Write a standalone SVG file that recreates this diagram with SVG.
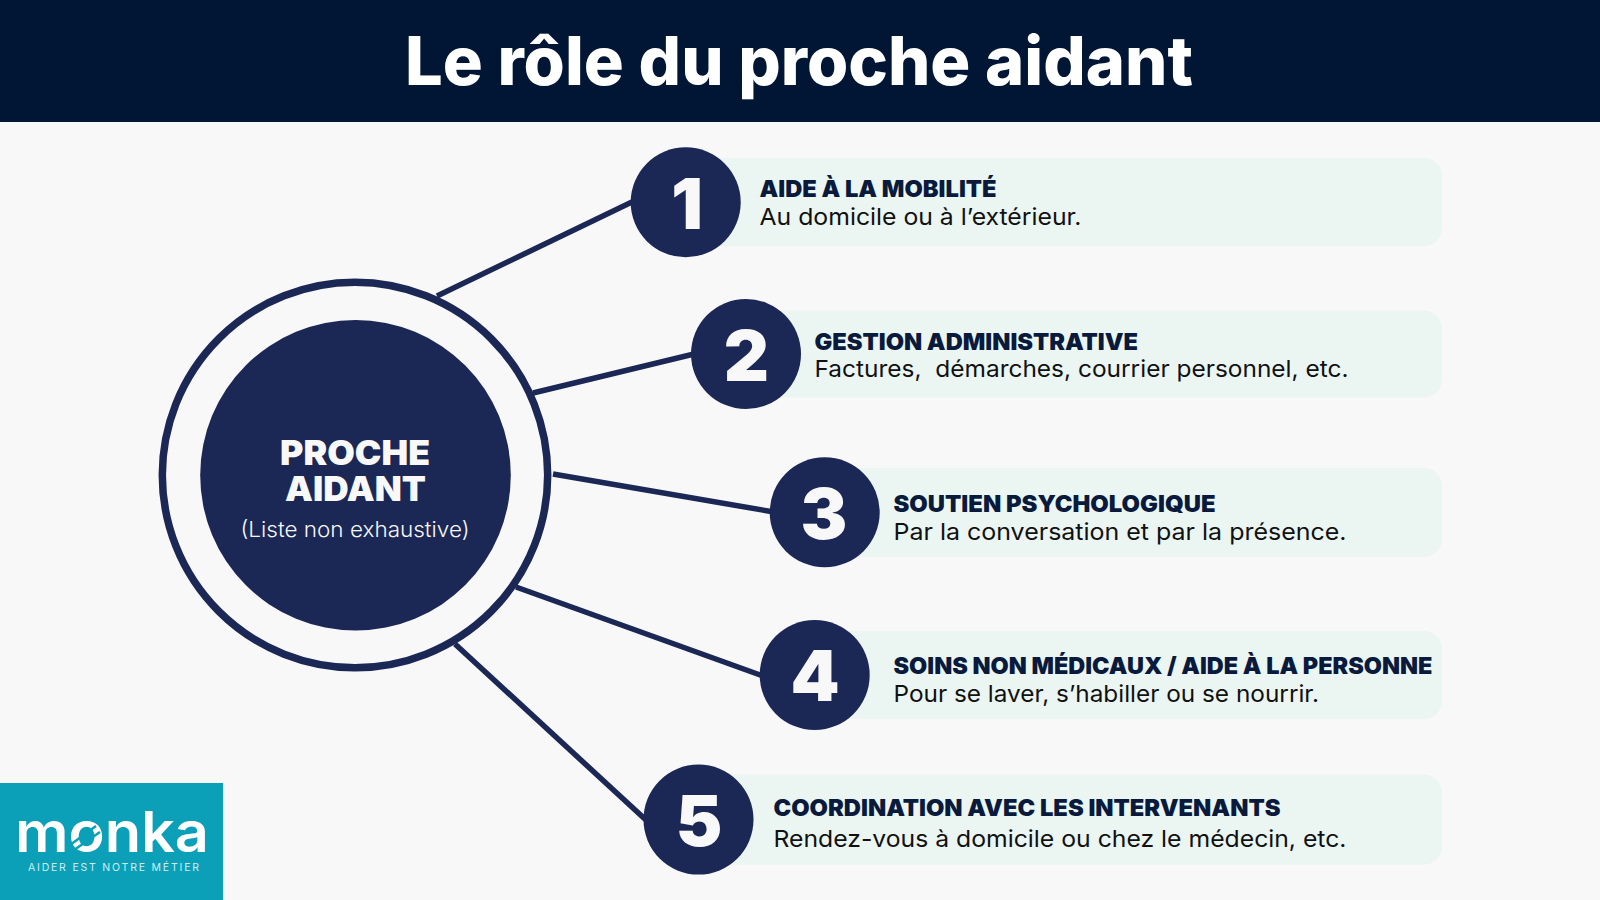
<svg xmlns="http://www.w3.org/2000/svg" width="1600" height="900" viewBox="0 0 1600 900">
<style>
text{font-family:"Inter","Liberation Sans",sans-serif}
.bar{fill:#ebf6f3}
.num{fill:#1b2754}
.dig{fill:#f8f8f8;font-size:70px;font-weight:900;text-anchor:middle}
.h{fill:#0a1a3c;font-size:23px;font-weight:900}
.b{fill:#111;font-size:23.5px;font-weight:400}
#connectors line{stroke:#1b2754;stroke-width:5.5;stroke-linecap:butt}
</style>
<rect width="1600" height="900" fill="#f8f8f8"/>
<g id="header">
<rect width="1600" height="122" fill="#011635"/>
<text x="405" y="85" font-size="67" font-weight="800" fill="#fff" textLength="788" lengthAdjust="spacingAndGlyphs">Le rôle du proche aidant</text>
</g>
<g id="connectors">
<line x1="437" y1="296" x2="634" y2="201"/>
<line x1="533" y1="393" x2="694" y2="354"/>
<line x1="553" y1="474" x2="774" y2="512"/>
<line x1="516" y1="587" x2="763" y2="676"/>
<line x1="455" y1="644" x2="646" y2="820"/>
</g>
<g id="center">
<circle cx="355" cy="475" r="192.7" fill="none" stroke="#1b2754" stroke-width="7.5"/>
<circle cx="355.5" cy="475.3" r="155.3" fill="#1b2754"/>
<text x="280" y="465" font-size="34" font-weight="900" fill="#f8f8f8" textLength="150" lengthAdjust="spacingAndGlyphs">PROCHE</text>
<text x="285" y="501" font-size="34" font-weight="900" fill="#f8f8f8" textLength="141" lengthAdjust="spacingAndGlyphs">AIDANT</text>
<text x="240.5" y="537" font-size="22" font-weight="300" fill="#f8f8f8" textLength="229" lengthAdjust="spacingAndGlyphs">(Liste non exhaustive)</text>
</g>
<g id="node1">
<rect class="bar" x="690" y="158" width="752" height="88" rx="18"/>
<circle class="num" cx="685.7" cy="202.3" r="55"/>
<text class="dig" x="687" y="229">1</text>
<text class="h" x="759.5" y="197" textLength="237" lengthAdjust="spacingAndGlyphs">AIDE À LA MOBILITÉ</text>
<text class="b" x="759.5" y="225" textLength="322" lengthAdjust="spacingAndGlyphs">Au domicile ou à l’extérieur.</text>
</g>
<g id="node2">
<rect class="bar" x="750" y="310.5" width="692" height="87" rx="18"/>
<circle class="num" cx="746" cy="354" r="55"/>
<text class="dig" x="746.5" y="381">2</text>
<text class="h" x="814.5" y="350" textLength="323.5" lengthAdjust="spacingAndGlyphs">GESTION ADMINISTRATIVE</text>
<text class="b" x="814.5" y="377" textLength="534" lengthAdjust="spacingAndGlyphs" xml:space="preserve">Factures,  démarches, courrier personnel, etc.</text>
</g>
<g id="node3">
<rect class="bar" x="830" y="468" width="612" height="89" rx="18"/>
<circle class="num" cx="824.7" cy="512.3" r="55"/>
<text class="dig" x="824" y="539">3</text>
<text class="h" x="893.5" y="511.7" textLength="322" lengthAdjust="spacingAndGlyphs">SOUTIEN PSYCHOLOGIQUE</text>
<text class="b" x="893.5" y="540" textLength="453" lengthAdjust="spacingAndGlyphs">Par la conversation et par la présence.</text>
</g>
<g id="node4">
<rect class="bar" x="820" y="631" width="622" height="88" rx="18"/>
<circle class="num" cx="814.7" cy="675" r="55"/>
<text class="dig" x="815" y="701">4</text>
<text class="h" x="893.5" y="674" textLength="539" lengthAdjust="spacingAndGlyphs">SOINS NON MÉDICAUX / AIDE À LA PERSONNE</text>
<text class="b" x="893.5" y="701.7" textLength="425.5" lengthAdjust="spacingAndGlyphs">Pour se laver, s’habiller ou se nourrir.</text>
</g>
<g id="node5">
<rect class="bar" x="705" y="774.5" width="737" height="90" rx="18"/>
<circle class="num" cx="698.5" cy="819.6" r="55"/>
<text class="dig" x="699" y="846">5</text>
<text class="h" x="773.5" y="815.7" textLength="507" lengthAdjust="spacingAndGlyphs">COORDINATION AVEC LES INTERVENANTS</text>
<text class="b" x="773.5" y="846.7" textLength="573" lengthAdjust="spacingAndGlyphs">Rendez-vous à domicile ou chez le médecin, etc.</text>
</g>
<g id="logo">
<rect x="0" y="783" width="223" height="117" fill="#0b9fb8"/>
<text x="15" y="851.7" font-size="56" font-weight="600" fill="#fff" textLength="194" lengthAdjust="spacingAndGlyphs">monka</text>
<path d="M70 845 L96 826 M74 850 L100 832" stroke="#0b9fb8" stroke-width="2.5" fill="none"/>
<text x="28" y="870.5" font-size="10.5" fill="#cdeef4" textLength="171">AIDER EST NOTRE MÉTIER</text>
</g>
</svg>
